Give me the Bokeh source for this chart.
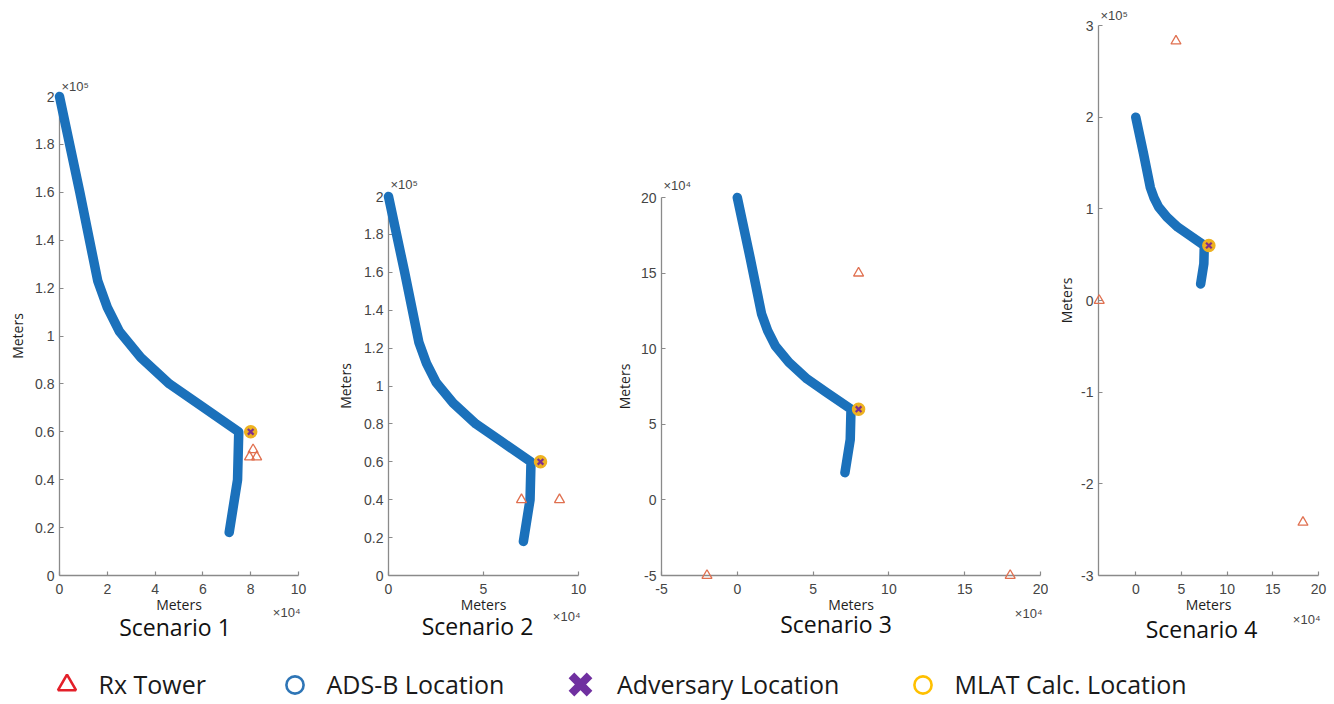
import numpy as np
from bokeh.plotting import figure
from bokeh.models import Range1d, FixedTicker, Legend, LegendItem
from bokeh.layouts import row, column
from bokeh.embed import file_html
from bokeh.resources import INLINE
from bokeh.core.properties import value

# ---------------- data (meters) ----------------
# ADS-B reported track (same in every scenario)
path_x = [0.0, 0.85e4, 1.6e4, 2.0e4, 2.5e4, 3.4e4, 4.6e4, 5.9e4, 7.5e4, 7.45e4, 7.1e4]
path_y = [20.0e4, 16.0e4, 12.3e4, 11.2e4, 10.2e4, 9.1e4, 8.0e4, 7.1e4, 6.0e4, 4.0e4, 1.8e4]

# adversary and MLAT-calculated location
adv_x = [8.0e4]
adv_y = [6.0e4]
mlat_x = [8.0e4]
mlat_y = [6.0e4]

# receiver towers per scenario
towers1_x = [8.1e4, 7.95e4, 8.25e4]
towers1_y = [5.25e4, 4.95e4, 4.95e4]
towers2_x = [7.0e4, 9.0e4]
towers2_y = [4.0e4, 4.0e4]
towers3_x = [8.0e4, -2.0e4, 18.0e4]
towers3_y = [15.0e4, -5.0e4, -5.0e4]
towers4_x = [4.4e4, -4.0e4, 18.3e4]
towers4_y = [2.83e5, 0.0, -2.42e5]

scenario_titles = ["Scenario 1", "Scenario 2", "Scenario 3", "Scenario 4"]
axis_label_text = "Meters"

# axis limits (meters)
s1_xlim = (0.0, 1.0e5)
s1_ylim = (0.0, 2.0e5)
s2_xlim = (0.0, 1.0e5)
s2_ylim = (0.0, 2.0e5)
s3_xlim = (-5.0e4, 20.0e4)
s3_ylim = (-5.0e4, 20.0e4)
s4_xlim = (-4.08e4, 20.0e4)
s4_ylim = (-3.0e5, 3.0e5)

# tick labels (in units of 10^exp)
s1_xticks = [0, 2, 4, 6, 8, 10]
s1_yticks = [0, 0.2, 0.4, 0.6, 0.8, 1, 1.2, 1.4, 1.6, 1.8, 2]
s2_xticks = [0, 5, 10]
s2_yticks = [0, 0.2, 0.4, 0.6, 0.8, 1, 1.2, 1.4, 1.6, 1.8, 2]
s3_xticks = [-5, 0, 5, 10, 15, 20]
s3_yticks = [-5, 0, 5, 10, 15, 20]
s4_xticks = [0, 5, 10, 15, 20]
s4_yticks = [-3, -2, -1, 0, 1, 2, 3]
s1_exp = (4, 5)
s2_exp = (4, 5)
s3_exp = (4, 4)
s4_exp = (4, 5)

legend_labels = ["Rx Tower", "ADS-B Location", "Adversary Location", "MLAT Calc. Location"]

# ---------------- styling ----------------
BLUE = "#1b71bb"
TOWER = "#e07050"
MLAT = "#EDB120"
ADV = "#7E2F8E"
AX = "#8a8a8a"
TICKTXT = "#454545"
SUP = {"4": "\u2074", "5": "\u2075"}
FRAME_TOP = 25      # px from top of row
FRAME_BOT = 575     # px from top of row
ROW_H = 646


def put_text(p, x, y, txt, dx, dy, size, font, align, baseline, color, angle=0.0):
    p.text(x=[x], y=[y], text=[txt], x_offset=dx, y_offset=dy, angle=angle,
           text_font=value(font), text_font_size=size, text_align=align,
           text_baseline=baseline, text_color=color, level="annotation")


def make_panel(fw, borders, axis_top, xlim, ylim, xt, yt, exps, towers, title, offs):
    bl, br = borders
    fh = FRAME_BOT - FRAME_TOP
    m_per_px = (ylim[1] - ylim[0]) / (FRAME_BOT - axis_top)
    y_end = ylim[1] + (axis_top - FRAME_TOP) * m_per_px
    p = figure(frame_width=fw, frame_height=fh,
               min_border_left=bl, min_border_right=br,
               min_border_top=FRAME_TOP, min_border_bottom=ROW_H - FRAME_BOT,
               x_range=Range1d(*xlim), y_range=Range1d(ylim[0], y_end),
               output_backend="svg", toolbar_location=None)
    p.grid.visible = False
    p.outline_line_color = None
    ex, ey = exps
    xt_vals = [int(round(t * 10 ** ex)) for t in xt]
    yt_vals = [int(round(t * 10 ** ey)) for t in yt]
    p.xaxis.ticker = FixedTicker(ticks=xt_vals)
    p.yaxis.ticker = FixedTicker(ticks=yt_vals)
    p.xaxis.major_label_overrides = {v: "%g" % t for v, t in zip(xt_vals, xt)}
    p.yaxis.major_label_overrides = {v: "%g" % t for v, t in zip(yt_vals, yt)}
    p.yaxis.bounds = ylim
    for ax in (p.xaxis[0], p.yaxis[0]):
        ax.axis_line_color = AX
        ax.axis_line_width = 1.3
        ax.major_tick_line_color = AX
        ax.major_tick_line_width = 1.2
        ax.major_tick_in = 4
        ax.major_tick_out = 0
        ax.minor_tick_line_color = None
        ax.major_label_text_font = "Liberation Sans"
        ax.major_label_text_font_size = "14px"
        ax.major_label_text_color = TICKTXT
    xa = p.xaxis[0]
    xa.axis_label = axis_label_text
    xa.axis_label_text_font = "Open Sans"
    xa.axis_label_text_font_size = "14px"
    xa.axis_label_text_font_style = "normal"
    xa.axis_label_text_color = "#1e1e1e"
    xa.major_label_standoff = 8
    xa.axis_label_standoff = -2
    p.yaxis.major_label_standoff = 5

    p.line(path_x, path_y, line_width=9.5, line_color=BLUE,
           line_cap="round", line_join="round", level="annotation")
    p.scatter(towers[0], towers[1], marker="triangle", size=10,
              fill_color=None, line_color=TOWER, line_width=1.3, level="annotation")
    p.scatter(mlat_x, mlat_y, marker="circle", size=12, fill_color=MLAT,
              line_color=MLAT, line_width=1.5, level="annotation")
    p.scatter(adv_x, adv_y, marker="x", size=8, line_color=ADV,
              line_width=2.2, level="annotation")

    yexp_dy, xexp_dy, t_dx, t_dy, ylab_dx = offs
    # y axis label, centred on the drawn axis
    put_text(p, xlim[0], (ylim[0] + ylim[1]) / 2, axis_label_text, ylab_dx, 0,
             "14px", "Open Sans", "center", "middle", "#1e1e1e", angle=np.pi / 2)
    put_text(p, xlim[0], ylim[1], "\u00d710" + SUP[str(ey)], 2, yexp_dy,
             "13px", "Liberation Sans", "left", "bottom", TICKTXT)
    put_text(p, xlim[1], ylim[0], "\u00d710" + SUP[str(ex)], 2, xexp_dy,
             "13px", "Liberation Sans", "right", "middle", TICKTXT)
    put_text(p, (xlim[0] + xlim[1]) / 2, ylim[0], title, t_dx, t_dy,
             "23px", "Open Sans", "center", "middle", "#111111")
    return p


# frame left edges (page px): 59, 388, 661, 1098
f1 = make_panel(239, (59, 30), 96, s1_xlim, s1_ylim, s1_xticks, s1_yticks,
                s1_exp, (towers1_x, towers1_y), scenario_titles[0], (-3, 37, -4, 51, -42))
f2 = make_panel(190, (60, 20), 196, s2_xlim, s2_ylim, s2_xticks, s2_yticks,
                s2_exp, (towers2_x, towers2_y), scenario_titles[1], (-5, 41, -6, 50, -43))
f3 = make_panel(379, (63, 8), 197, s3_xlim, s3_ylim, s3_xticks, s3_yticks,
                s3_exp, (towers3_x, towers3_y), scenario_titles[2], (-5, 38, -15, 48, -37))
f4 = make_panel(220, (50, 12), 25, s4_xlim, s4_ylim, s4_xticks, s4_yticks,
                s4_exp, (towers4_x, towers4_y), scenario_titles[3], (-3, 44, -7, 53, -32))

# ---------------- legend strip ----------------
LEG_H = 56
leg = figure(width=1330, height=LEG_H, x_axis_type=None, y_axis_type=None,
             toolbar_location=None, output_backend="svg", min_border=0,
             x_range=Range1d(0, 1), y_range=Range1d(0, 1))
leg.outline_line_color = None
leg.grid.visible = False

nan = np.array([np.nan])
r_rx = leg.scatter(nan, nan, marker="triangle", fill_color=None,
                   line_color="#e3202a", line_width=2.6)
r_ads = leg.scatter(nan, nan, marker="circle", fill_color=None,
                    line_color="#2e75b6", line_width=2.6)
r_adv = leg.scatter(nan, nan, marker="x", line_color="#7030A0", line_width=8)
r_mlat = leg.scatter(nan, nan, marker="circle", fill_color=None,
                     line_color="#FFC000", line_width=2.6)

text_center_from_bottom = 18
specs = [  # renderer, label, glyph centre x, glyph box, standoff
    (r_rx, legend_labels[0], 66, 45, 10),
    (r_ads, legend_labels[1], 294, 43, 11),
    (r_adv, legend_labels[2], 580, 64, 5),
    (r_mlat, legend_labels[3], 922, 43, 11),
]
for rend, lab, cx, g, so in specs:
    lg = Legend(items=[LegendItem(label=lab, renderers=[rend])],
                location=(cx - g / 2, text_center_from_bottom - g / 2),
                glyph_width=g, glyph_height=g, label_standoff=so,
                padding=0, margin=0, border_line_color=None,
                background_fill_alpha=0,
                label_text_font="Open Sans", label_text_font_size="25px",
                label_text_color="#1a1a1a")
    leg.add_layout(lg)

layout = column(row(f1, f2, f3, f4), leg)
open("out.html", "w").write(file_html(layout, INLINE))
